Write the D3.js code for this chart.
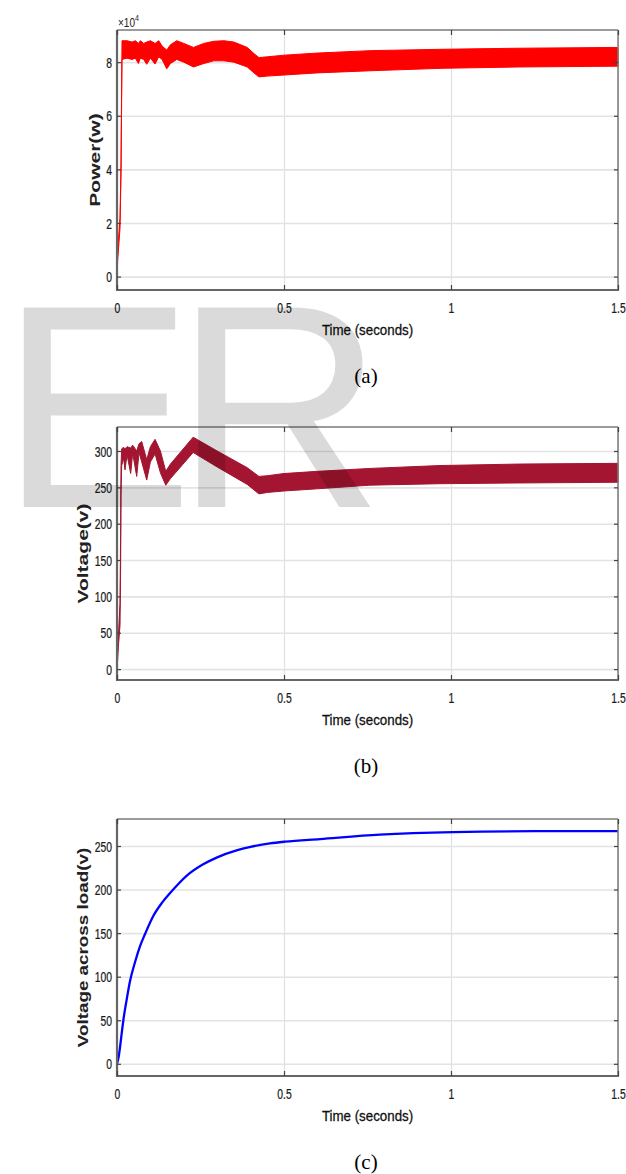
<!DOCTYPE html>
<html>
<head>
<meta charset="utf-8">
<script src="https://cdn.jsdelivr.net/npm/d3@7"></script>
<style>
  body { margin: 0; background: #fff; }
  svg { display: block; }
</style>
</head>
<body>
<div id="fig"></div>
<script>
// tick values
var timeTicks = [0, 0.5, 1, 1.5];
var powerTicks = [0, 2, 4, 6, 8];
var voltTicks = [0, 50, 100, 150, 200, 250, 300];
var loadTicks = [0, 50, 100, 150, 200, 250];

// (a) power band, x10^4 W (lower / upper edge of the ripple)
var powerT    = [0, 0.002, 0.009, 0.012, 0.0135, 0.015, 0.03, 0.045, 0.055, 0.064, 0.07, 0.08, 0.089, 0.1, 0.114, 0.125, 0.135, 0.149, 0.16, 0.179, 0.2, 0.229, 0.26, 0.29, 0.32, 0.35, 0.39, 0.41, 0.425, 0.45, 0.5, 0.6, 0.76, 0.97, 1.2, 1.5];
var powerLow  = [-0.1, 0.6, 1.8, 3.8, 6.0, 8.1, 8.15, 8.1, 8.15, 7.95, 8.15, 8.1, 7.92, 8.15, 7.93, 8.2, 8.1, 7.75, 7.95, 8.1, 8.0, 7.82, 7.95, 8.05, 8.05, 8.0, 7.82, 7.6, 7.45, 7.48, 7.52, 7.6, 7.68, 7.77, 7.82, 7.85];
var powerHigh = [0.1, 1.0, 2.2, 4.2, 6.6, 8.8, 8.8, 8.75, 8.8, 8.7, 8.8, 8.7, 8.75, 8.8, 8.7, 8.8, 8.6, 8.45, 8.65, 8.8, 8.7, 8.55, 8.7, 8.78, 8.8, 8.75, 8.55, 8.32, 8.17, 8.2, 8.26, 8.34, 8.43, 8.48, 8.52, 8.55];

// (b) voltage band, V
var voltT    = [0, 0.004, 0.009, 0.011, 0.012, 0.014, 0.02, 0.024, 0.03, 0.041, 0.047, 0.059, 0.066, 0.074, 0.089, 0.1, 0.114, 0.13, 0.146, 0.16, 0.228, 0.3, 0.39, 0.425, 0.45, 0.5, 0.6, 0.757, 0.967, 1.2, 1.5];
var voltLow  = [-3, 30, 60, 150, 240, 280, 290, 274, 295, 269, 297, 265, 298, 285, 260, 285, 296, 270, 253, 262, 298, 278, 254, 241, 243, 245, 248, 253, 255, 256, 257];
var voltHigh = [3, 45, 90, 200, 280, 303, 305, 303, 306, 304, 308, 300, 310, 313, 288, 306, 316, 300, 272, 282, 319, 300, 277, 265, 266, 269, 272, 276, 280, 282, 283];

// (c) voltage across load, V
var loadT = [0, 0.005, 0.01, 0.015, 0.019, 0.03, 0.039, 0.055, 0.069, 0.084, 0.109, 0.135, 0.159, 0.185, 0.209, 0.258, 0.3, 0.358, 0.4, 0.458, 0.503, 0.608, 0.787, 1.007, 1.25, 1.5];
var loadV = [0, 8, 22, 38, 50, 76, 95, 118, 135, 149, 170, 185, 196, 207, 216, 229, 237, 245, 249, 253, 255, 258, 263, 266, 267, 267];

var svg = d3.select('#fig')
  .append('svg')
  .attr('width', 626)
  .attr('height', 1174);

var tickFont = 'Liberation Sans, Arial, sans-serif';

function drawPanel(p) {
  var x = d3.scaleLinear().domain([0, 1.5]).range([117, 618]);
  var y = d3.scaleLinear().domain(p.yDomain).range([p.bottom, p.top]);
  var g = svg.append('g');
  var h = p.bottom - p.top;

  // grid lines
  g.append('g')
    .attr('transform', 'translate(0,' + p.bottom + ')')
    .call(d3.axisBottom(x).tickValues(timeTicks).tickSize(-h).tickFormat(''))
    .call(a => a.select('.domain').remove())
    .selectAll('line').attr('stroke', '#e0e0e0').attr('stroke-width', 1.2);
  g.append('g')
    .attr('transform', 'translate(117,0)')
    .call(d3.axisLeft(y).tickValues(p.yTicks).tickSize(-501).tickFormat(''))
    .call(a => a.select('.domain').remove())
    .selectAll('line').attr('stroke', '#e3e3e3').attr('stroke-width', 1.6);

  // series
  var idx = d3.range(p.t.length);
  if (p.low) {
    g.append('path')
      .attr('d', d3.area()
        .x(i => x(p.t[i]))
        .y0(i => y(p.low[i]))
        .y1(i => y(p.high[i]))(idx))
      .attr('fill', p.color)
      .attr('stroke', p.color)
      .attr('stroke-width', 1);
  } else {
    g.append('path')
      .attr('d', d3.line()
        .x(i => x(p.t[i]))
        .y(i => y(p.v[i]))
        .curve(d3.curveMonotoneX)(idx))
      .attr('fill', 'none')
      .attr('stroke', p.color)
      .attr('stroke-width', 2.3);
  }

  // box
  g.append('line').attr('x1', 117).attr('x2', 618).attr('y1', p.top).attr('y2', p.top)
    .attr('stroke', '#7a7a7a').attr('stroke-width', 1.5);
  g.append('line').attr('x1', 618).attr('x2', 618).attr('y1', p.top).attr('y2', p.bottom)
    .attr('stroke', '#7a7a7a').attr('stroke-width', 1.5);
  g.append('line').attr('x1', 116).attr('x2', 619).attr('y1', p.bottom).attr('y2', p.bottom)
    .attr('stroke', '#666').attr('stroke-width', 2.2);
  g.append('line').attr('x1', 117).attr('x2', 117).attr('y1', p.top).attr('y2', p.bottom + 1)
    .attr('stroke', '#666').attr('stroke-width', 2.2);

  // inward ticks + labels
  var left = g.append('g').attr('transform', 'translate(117,0)')
    .call(d3.axisLeft(y).tickValues(p.yTicks).tickSizeInner(-4).tickSizeOuter(0).tickFormat(d => String(d)));
  left.select('.domain').remove();
  left.selectAll('line').attr('stroke', '#444').attr('stroke-width', 1.2);
  left.selectAll('text')
    .attr('font-family', tickFont).attr('font-size', 14).attr('fill', '#1a1a1a')
    .attr('stroke', '#1a1a1a').attr('stroke-width', 0.25)
    .attr('transform', 'scale(0.74,1)').attr('x', -5 / 0.74).attr('dy', '0.36em');

  var right = g.append('g').attr('transform', 'translate(618,0)')
    .call(d3.axisRight(y).tickValues(p.yTicks).tickSizeInner(-4).tickSizeOuter(0).tickFormat(''));
  right.select('.domain').remove();
  right.selectAll('line').attr('stroke', '#444').attr('stroke-width', 1.2);

  var top = g.append('g').attr('transform', 'translate(0,' + p.top + ')')
    .call(d3.axisTop(x).tickValues(timeTicks).tickSizeInner(-5).tickSizeOuter(0).tickFormat(''));
  top.select('.domain').remove();
  top.selectAll('line').attr('stroke', '#444').attr('stroke-width', 1.2);

  var bottom = g.append('g').attr('transform', 'translate(0,' + p.bottom + ')')
    .call(d3.axisBottom(x).tickValues(timeTicks).tickSizeInner(-5).tickSizeOuter(0).tickFormat(d => String(d)));
  bottom.select('.domain').remove();
  bottom.selectAll('line').attr('stroke', '#444').attr('stroke-width', 1.2);
  bottom.selectAll('text')
    .attr('font-family', tickFont).attr('font-size', 14).attr('fill', '#1a1a1a')
    .attr('stroke', '#1a1a1a').attr('stroke-width', 0.25)
    .attr('transform', 'scale(0.74,1)').attr('y', 23.5).attr('dy', null);

  // y label
  g.append('text')
    .attr('transform', 'translate(' + p.ylabX + ',' + (p.top + h / 2) + ') rotate(-90) scale(' + p.ylabStretch + ',1)')
    .attr('text-anchor', 'middle')
    .attr('font-family', tickFont).attr('font-weight', 'bold').attr('font-size', 14.5)
    .attr('fill', '#222')
    .text(p.ylabel);

  // x label
  g.append('text')
    .attr('transform', 'translate(367.5,' + (p.bottom + 45) + ') scale(0.86,1)')
    .attr('text-anchor', 'middle')
    .attr('font-family', tickFont).attr('font-size', 15.5).attr('fill', '#111')
    .attr('stroke', '#111').attr('stroke-width', 0.3)
    .text('Time (seconds)');

  // caption
  g.append('text')
    .attr('x', 366).attr('y', p.bottom + 93)
    .attr('text-anchor', 'middle')
    .attr('font-family', 'Liberation Serif, Times New Roman, serif').attr('font-size', 21)
    .attr('fill', '#000')
    .text(p.caption);

  if (p.exponent) {
    var ex = g.append('text')
      .attr('transform', 'translate(118,' + (p.top - 3) + ') scale(0.8,1)')
      .attr('font-family', tickFont).attr('font-size', 12.5).attr('fill', '#222');
    ex.append('tspan').text('\u00d710');
    ex.append('tspan').attr('dy', -6).attr('font-size', 9).text(p.exponent);
  }
}

drawPanel({
  top: 30, bottom: 290, yDomain: [-0.5, 9.2], yTicks: powerTicks,
  t: powerT, low: powerLow, high: powerHigh, color: '#ff0000',
  ylabel: 'Power(w)', ylabX: 100, ylabStretch: 1.45, caption: '(a)', exponent: '4'
});
drawPanel({
  top: 427, bottom: 680, yDomain: [-15, 333], yTicks: voltTicks,
  t: voltT, low: voltLow, high: voltHigh, color: '#a31530',
  ylabel: 'Voltage(v)', ylabX: 88, ylabStretch: 1.45, caption: '(b)'
});
drawPanel({
  top: 819, bottom: 1076, yDomain: [-14, 281], yTicks: loadTicks,
  t: loadT, v: loadV, color: '#0000ff',
  ylabel: 'Voltage across load(v)', ylabX: 88, ylabStretch: 1.3, caption: '(c)'
});

// watermark
svg.append('text')
  .attr('x', 0).attr('y', 507)
  .attr('font-family', tickFont).attr('font-size', 290)
  .attr('letter-spacing', -19)
  .attr('fill', '#000').attr('fill-opacity', 0.145)
  .text('ER');
</script>
</body>
</html>
